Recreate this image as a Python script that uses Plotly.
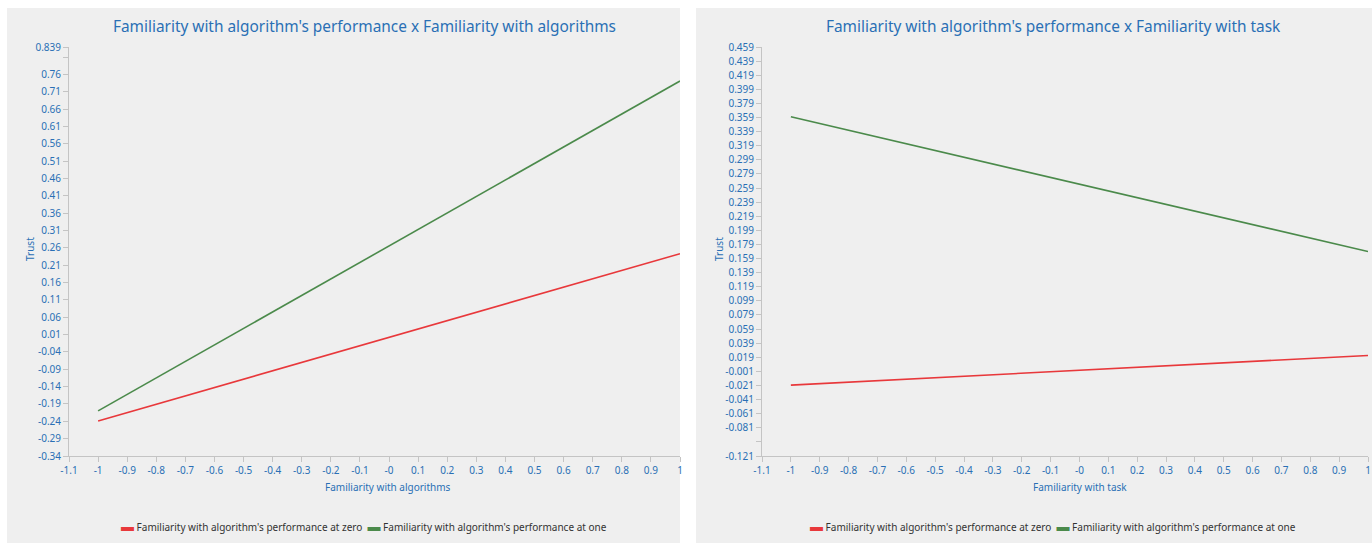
import plotly.graph_objects as go

# ---------------- data ----------------
series_names = ["Familiarity with algorithm's performance at zero",
                "Familiarity with algorithm's performance at one"]
series_colors = ["#e8383b", "#4b8a4b"]

x_left = [-1, 1]
left_zero = [-0.239, 0.243]
left_one = [-0.210, 0.741]

x_right = [-1, 1]
right_zero = [-0.0205, 0.0216]
right_one = [0.360, 0.169]

x_tickvals = [-1.1, -1.0, -0.9, -0.8, -0.7, -0.6, -0.5, -0.4, -0.3, -0.2, -0.1,
              0.0, 0.1, 0.2, 0.3, 0.4, 0.5, 0.6, 0.7, 0.8, 0.9, 1.0]
x_ticktext = ["-1.1", "-1", "-0.9", "-0.8", "-0.7", "-0.6", "-0.5", "-0.4", "-0.3", "-0.2", "-0.1",
              "-0", "0.1", "0.2", "0.3", "0.4", "0.5", "0.6", "0.7", "0.8", "0.9", "1"]

left_y_tickvals = [-0.34, -0.29, -0.24, -0.19, -0.14, -0.09, -0.04, 0.01, 0.06, 0.11, 0.16,
                   0.21, 0.26, 0.31, 0.36, 0.41, 0.46, 0.51, 0.56, 0.61, 0.66, 0.71, 0.76,
                   0.81, 0.839]
left_y_ticktext = ["-0.34", "-0.29", "-0.24", "-0.19", "-0.14", "-0.09", "-0.04", "0.01", "0.06",
                   "0.11", "0.16", "0.21", "0.26", "0.31", "0.36", "0.41", "0.46", "0.51", "0.56",
                   "0.61", "0.66", "0.71", "0.76", "", "0.839"]

right_y_tickvals = [-0.121, -0.101, -0.081, -0.061, -0.041, -0.021, -0.001, 0.019, 0.039, 0.059,
                    0.079, 0.099, 0.119, 0.139, 0.159, 0.179, 0.199, 0.219, 0.239, 0.259, 0.279,
                    0.299, 0.319, 0.339, 0.359, 0.379, 0.399, 0.419, 0.439, 0.459]
right_y_ticktext = ["-0.121", "", "-0.081", "-0.061", "-0.041", "-0.021", "-0.001", "0.019",
                    "0.039", "0.059", "0.079", "0.099", "0.119", "0.139", "0.159", "0.179",
                    "0.199", "0.219", "0.239", "0.259", "0.279", "0.299", "0.319", "0.339",
                    "0.359", "0.379", "0.399", "0.419", "0.439", "0.459"]

titles = ["Familiarity with algorithm's performance x Familiarity with algorithms",
          "Familiarity with algorithm's performance x Familiarity with task"]
x_titles = ["Familiarity with algorithms", "Familiarity with task"]
y_title = "Trust"

# ---------------- layout geometry ----------------
W, H = 1372, 543
FONT = "Noto Sans"
BLUE = "#2a6fb5"
AXIS_GRAY = "#c4c4c4"
PANEL = "#efefef"

def px(x):
    return x / W

def py(y):
    return 1 - y / H

fig = go.Figure()

for xs, ys, c, n in [(x_left, left_zero, series_colors[0], series_names[0]),
                     (x_left, left_one, series_colors[1], series_names[1])]:
    fig.add_trace(go.Scatter(x=xs, y=ys, mode="lines", name=n, line=dict(color=c, width=1.6),
                             showlegend=False, xaxis="x", yaxis="y", hoverinfo="skip"))
for xs, ys, c, n in [(x_right, right_zero, series_colors[0], series_names[0]),
                     (x_right, right_one, series_colors[1], series_names[1])]:
    fig.add_trace(go.Scatter(x=xs, y=ys, mode="lines", name=n, line=dict(color=c, width=1.6),
                             showlegend=False, xaxis="x2", yaxis="y2", hoverinfo="skip"))

# legend text (swatch + series name) built from the series lists
legend_text = "&nbsp;&nbsp;".join(
    f"<span style='color:{c};font-size:13px'>▬</span> {n}"
    for n, c in zip(series_names, series_colors)
)

axis_common = dict(showgrid=False, zeroline=False, showline=True, linecolor=AXIS_GRAY,
                   linewidth=1, ticks="outside", ticklen=5, tickcolor=AXIS_GRAY,
                   tickfont=dict(family=FONT, size=10, color=BLUE), fixedrange=True,
                   automargin=False)

ydom = [py(456), py(47)]

def ann(text, x, y, size, color=BLUE, angle=0):
    return dict(text=text, xref="paper", yref="paper", x=px(x), y=py(y),
                xanchor="center", yanchor="middle", showarrow=False, textangle=angle,
                font=dict(family=FONT, size=size, color=color))

fig.update_layout(
    width=W, height=H,
    margin=dict(l=0, r=0, t=0, b=0, pad=0, autoexpand=False),
    paper_bgcolor="white",
    plot_bgcolor="rgba(0,0,0,0)",
    showlegend=False,
    xaxis=dict(domain=[px(69), px(680)], range=[-1.1, 1.0], tickvals=x_tickvals,
               ticktext=x_ticktext, anchor="y", **axis_common),
    yaxis=dict(domain=ydom, range=[-0.34, 0.839], tickvals=left_y_tickvals,
               ticktext=left_y_ticktext, anchor="x", **axis_common),
    xaxis2=dict(domain=[px(762), px(1368)], range=[-1.1, 1.0], tickvals=x_tickvals,
                ticktext=x_ticktext, anchor="y2", **axis_common),
    yaxis2=dict(domain=ydom, range=[-0.121, 0.459], tickvals=right_y_tickvals,
                ticktext=right_y_ticktext, anchor="x2", **axis_common),
    shapes=[
        dict(type="rect", xref="paper", yref="paper", x0=px(7), x1=px(680), y0=0, y1=py(8),
             fillcolor=PANEL, line=dict(width=0), layer="below"),
        dict(type="rect", xref="paper", yref="paper", x0=px(696), x1=1, y0=0, y1=py(8),
             fillcolor=PANEL, line=dict(width=0), layer="below"),
    ],
    annotations=[
        ann(titles[0], 364, 27, 15.4),
        ann(titles[1], 1053, 27, 15.4),
        ann(x_titles[0], 388, 487, 10),
        ann(x_titles[1], 1080, 487, 10),
        ann(y_title, 30, 249, 10, angle=-90),
        ann(y_title, 719, 249, 10, angle=-90),
        ann(legend_text, 364, 526, 10, color="#333333"),
        ann(legend_text, 1053, 526, 10, color="#333333"),
    ],
)

fix_css = ("document.documentElement.style.margin='0px';document.body.style.margin='0px';"
           "document.documentElement.style.overflow='hidden';document.body.style.overflow='hidden';")

fig.write_html("out.html", config={"displayModeBar": False}, post_script=fix_css)
